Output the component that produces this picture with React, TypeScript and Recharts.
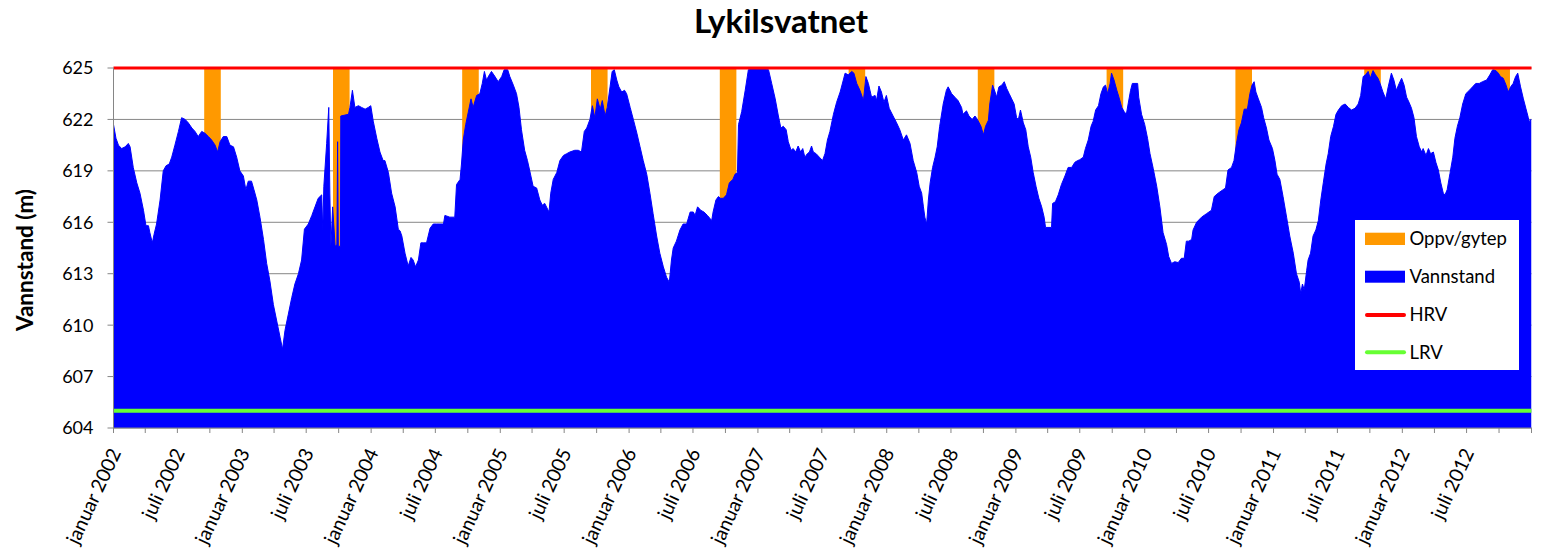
import React from 'react';
import { ComposedChart, Area, XAxis, YAxis, CartesianGrid, ReferenceLine, Legend } from 'recharts';

const TITLE = 'Lykilsvatnet';
const Y_LABEL = 'Vannstand (m)';
const Y_TICKS = [604, 607, 610, 613, 616, 619, 622, 625];
const HRV = 625;
const LRV = 605;
const START = '2002-01-01';
const END = '2013-01-01';
const TICK_YEARS = [2002, 2003, 2004, 2005, 2006, 2007, 2008, 2009, 2010, 2011, 2012];
const TICK_MONTHS = [0, 3, 6, 9];
const MONTH_NAMES: Record<number, string> = { 0: 'januar', 6: 'juli' };

const LEGEND_NAMES = ['Oppv/gytep', 'Vannstand', 'HRV', 'LRV'];

// Spawning / autumn period windows (Oppv/gytep)
const oppvStart = ['2002-09-15', '2003-09-15', '2004-09-15', '2005-09-15', '2006-09-15', '2007-09-15', '2008-09-15', '2009-09-15', '2010-09-15', '2011-09-15', '2012-09-15'];
const oppvEnd = ['2002-11-01', '2003-11-01', '2004-11-01', '2005-11-01', '2006-11-01', '2007-11-01', '2008-11-01', '2009-11-01', '2010-11-01', '2011-11-01', '2012-11-01'];

// Water level: day number since 1 Jan 2002
const vannDays = [
  0, 7, 14, 23, 33, 42, 47, 56, 66, 75, 85, 92, 99, 103, 110, 115, 122, 132, 141, 149, 158, 165, 174, 184, 193, 203, 212, 222, 231, 240, 250, 259, 269, 278, 288, 295, 302, 311, 321, 330, 340, 349, 358,
  368, 375, 382, 391, 398, 406, 415, 425, 434, 443, 453, 462, 472, 479, 486, 495, 505, 514, 524, 533, 541, 552, 562, 571, 580, 590, 593, 596, 604, 610, 613, 616, 621, 628, 633, 635, 637, 643, 644, 666, 670, 677, 684, 694, 703, 713, 722, 729,
  736, 746, 755, 764, 769, 779, 788, 798, 807, 812, 817, 826, 835, 843, 849, 856, 864, 871, 878, 887, 897, 906, 916, 925, 935, 939, 953, 967, 972, 982, 986, 991, 998, 1005, 1013, 1019, 1029, 1038, 1045, 1051, 1057, 1065, 1071, 1081, 1090,
  1100, 1107, 1117, 1123, 1133, 1142, 1149, 1156, 1165, 1173, 1179, 1189, 1199, 1208, 1215, 1222, 1234, 1239, 1246, 1256, 1265, 1275, 1284, 1293, 1307, 1317, 1326, 1334, 1341, 1350, 1357, 1364, 1371, 1379, 1385, 1393, 1399, 1407, 1413,
  1419, 1426, 1432, 1440, 1448, 1454, 1464, 1473, 1483, 1492, 1501, 1511, 1520, 1529, 1539, 1548, 1558, 1567, 1575, 1581, 1586, 1595, 1605, 1614, 1624, 1634, 1643, 1648, 1655, 1664, 1673, 1683, 1695, 1699, 1707, 1714, 1720, 1728, 1737,
  1745, 1755, 1761, 1768, 1771, 1780, 1790, 1799, 1808, 1823, 1841, 1856, 1865, 1875, 1884, 1891, 1898, 1906, 1912, 1920, 1926, 1933, 1940, 1947, 1953, 1959, 1966, 1972, 1978, 1983, 1991, 2000, 2009, 2016, 2023, 2030, 2040, 2049, 2059,
  2068, 2073, 2082, 2092, 2098, 2106, 2115, 2125, 2132, 2139, 2148, 2158, 2162, 2169, 2176, 2183, 2190, 2198, 2209, 2219, 2228, 2238, 2247, 2257, 2266, 2276, 2283, 2290, 2295, 2299, 2304, 2309, 2314, 2321, 2328, 2334, 2341, 2351, 2360,
  2365, 2375, 2384, 2393, 2403, 2407, 2417, 2424, 2433, 2441, 2448, 2458, 2465, 2471, 2479, 2483, 2491, 2498, 2502, 2509, 2517, 2524, 2531, 2538, 2545, 2552, 2559, 2564, 2570, 2578, 2585, 2592, 2599, 2606, 2614, 2622, 2630, 2637, 2641,
  2658, 2661, 2669, 2677, 2686, 2696, 2705, 2715, 2724, 2732, 2738, 2748, 2754, 2762, 2770, 2776, 2783, 2791, 2798, 2805, 2811, 2817, 2824, 2828, 2835, 2843, 2849, 2857, 2864, 2870, 2875, 2882, 2887, 2902, 2905, 2913, 2922, 2930, 2937,
  2946, 2956, 2965, 2974, 2984, 2990, 2998, 3007, 3017, 3026, 3034, 3040, 3047, 3055, 3059, 3069, 3083, 3097, 3111, 3119, 3130, 3144, 3151, 3158, 3168, 3175, 3182, 3189, 3196, 3204, 3213, 3220, 3226, 3232, 3237, 3244, 3253, 3259, 3267,
  3274, 3284, 3291, 3297, 3305, 3314, 3324, 3333, 3343, 3352, 3360, 3364, 3369, 3374, 3381, 3385, 3392, 3399, 3407, 3414, 3421, 3428, 3436, 3442, 3449, 3457, 3464, 3471, 3480, 3490, 3499, 3508, 3518, 3527, 3534, 3541, 3548, 3555, 3561,
  3569, 3576, 3583, 3589, 3597, 3605, 3612, 3621, 3628, 3635, 3643, 3650, 3657, 3664, 3671, 3678, 3685, 3692, 3700, 3707, 3711, 3719, 3726, 3732, 3740, 3747, 3754, 3761, 3768, 3773, 3779, 3787, 3795, 3801, 3808, 3815, 3823, 3832, 3842,
  3851, 3860, 3870, 3879, 3891, 3900, 3908, 3917, 3924, 3930, 3938, 3946, 3952, 3959, 3966, 3973, 3979, 3987, 3995, 4002, 4009, 4013, 4016, 4018,
];

const vannLevels = [
  621.7, 620.9, 620.5, 620.3, 620.4, 620.6, 620.4, 619.2, 618.3, 617.7, 616.7, 615.8, 615.8, 615.4, 614.8, 615.3, 615.9, 617.3, 619.0, 619.3, 619.4, 619.8, 620.5, 621.3, 622.1, 622.0, 621.8, 621.5, 621.3, 621.0, 621.3, 621.2, 621.0, 620.8, 620.5, 620.1, 620.7, 621.0, 621.0, 620.5, 620.4, 619.8, 619.0,
  618.7, 617.9, 618.4, 618.4, 617.9, 617.3, 616.3, 615.0, 613.6, 612.6, 611.2, 610.3, 609.3, 608.6, 609.7, 610.6, 611.6, 612.4, 613.0, 613.8, 615.6, 615.9, 616.4, 616.9, 617.4, 617.6, 615.5, 618.1, 620.6, 622.7, 617.7, 614.6, 616.9, 614.6, 614.7, 620.7, 614.6, 614.6, 622.2, 622.3, 622.7, 623.7, 622.7, 622.8, 622.7, 622.6, 622.7, 622.8,
  621.9, 620.9, 620.1, 619.6, 619.6, 618.9, 617.7, 616.9, 615.6, 615.5, 615.2, 614.2, 613.45, 613.95, 613.8, 613.4, 613.8, 614.8, 614.8, 614.8, 615.65, 615.9, 615.9, 615.9, 615.9, 616.4, 616.3, 616.3, 618.2, 618.5, 619.4, 620.8, 621.7, 622.4, 623.2, 622.7, 623.4, 623.5, 624.1, 624.8, 624.3, 624.6, 624.8, 624.5, 624.2,
  624.5, 624.9, 624.9, 624.5, 624.0, 623.5, 622.7, 621.4, 620.2, 619.6, 619.05, 618.1, 618.0, 617.3, 617.0, 617.1, 616.6, 617.7, 618.5, 618.9, 619.6, 619.9, 620.0, 620.1, 620.2, 620.2, 620.1, 621.3, 621.5, 622.0, 622.8, 622.1, 623.2, 622.6, 623.1, 622.2, 622.7, 623.9, 624.8,
  624.9, 624.3, 623.9, 623.6, 623.7, 623.5, 622.7, 622.0, 621.2, 620.4, 619.6, 618.8, 617.7, 616.5, 615.2, 614.2, 613.4, 612.8, 612.5, 613.8, 614.5, 614.9, 615.55, 615.9, 615.9, 616.6, 616.6, 616.4, 616.9, 616.7, 616.6, 616.4, 616.1, 616.6, 617.3, 617.5, 617.4, 617.4, 617.6,
  618.3, 618.5, 618.8, 618.9, 621.7, 622.45, 623.7, 624.9, 625.0, 625.0, 625.0, 624.9, 624.1, 623.2, 622.2, 621.5, 621.6, 621.4, 620.7, 620.2, 620.3, 620.1, 620.45, 620.1, 620.3, 619.8, 620.0, 620.1, 620.45, 620.1, 620.0, 619.8, 619.6, 620.0, 620.8, 621.3, 622.3, 623.0, 623.6,
  624.3, 624.7, 624.6, 624.8, 624.7, 624.1, 623.7, 623.1, 624.5, 624.1, 623.3, 623.4, 623.1, 623.95, 623.6, 623.0, 623.4, 622.65, 622.2, 621.8, 621.4, 620.8, 621.1, 620.6, 619.6, 618.9, 618.1, 617.7, 616.9, 616.3, 615.9, 617.3, 618.3, 619.2, 619.8, 620.4, 621.6, 622.9, 623.7,
  623.9, 623.5, 623.3, 623.1, 622.7, 622.3, 622.5, 622.2, 622.0, 622.2, 622.0, 621.6, 621.1, 621.6, 621.95, 622.9, 624.0, 623.6, 623.3, 623.9, 624.0, 624.2, 623.8, 623.5, 623.2, 622.9, 622.1, 622.0, 622.55, 621.8, 621.4, 620.4, 619.8, 618.9, 618.1, 617.4, 616.9, 616.3, 615.7,
  615.7, 617.1, 617.2, 617.6, 618.2, 618.7, 619.2, 619.2, 619.5, 619.6, 619.65, 619.8, 620.3, 620.8, 621.6, 621.9, 622.55, 622.8, 623.5, 623.9, 624.0, 623.5, 624.1, 624.7, 624.3, 623.7, 623.3, 622.7, 622.45, 622.3, 622.9, 623.7, 624.1, 624.1, 623.3, 622.3, 621.7, 620.9, 620.0,
  619.15, 618.1, 616.9, 615.4, 614.7, 614.0, 613.6, 613.7, 613.65, 613.9, 613.9, 614.9, 614.9, 615.0, 615.55, 616.0, 616.3, 616.5, 616.7, 617.5, 617.7, 617.9, 618.0, 619.05, 619.2, 619.6, 620.6, 621.4, 621.8, 622.6, 622.6, 623.5, 624.0, 624.2, 623.6, 623.2, 622.7, 622.1, 621.5,
  620.8, 620.3, 619.6, 618.8, 618.5, 617.5, 616.3, 615.2, 614.2, 613.0, 612.5, 611.85, 612.4, 612.05, 613.2, 613.8, 614.2, 615.2, 615.55, 616.1, 617.3, 618.3, 619.4, 620.0, 621.0, 621.6, 622.3, 622.55, 622.8, 622.9, 622.7, 622.55, 622.65, 622.9, 623.4, 624.5, 624.6, 624.8, 624.4,
  624.85, 624.6, 624.4, 624.1, 623.6, 623.2, 623.9, 624.7, 624.3, 623.7, 624.1, 624.4, 624.0, 623.3, 623.0, 622.65, 622.1, 621.0, 620.4, 620.1, 620.3, 619.9, 620.3, 620.0, 620.1, 619.5, 619.05, 618.3, 617.7, 617.6, 617.9, 618.85, 619.8, 620.9, 621.6, 622.1, 622.9, 623.5, 623.7,
  623.9, 624.1, 624.1, 624.2, 624.3, 624.6, 624.9, 624.85, 624.7, 624.5, 624.4, 624.0, 623.6, 623.9, 624.1, 624.5, 624.7, 623.9, 623.2, 622.65, 622.1, 621.8, 622.0, 622.0,
];

const FONT = 'Lato, "Noto Sans", sans-serif';
const AXIS_GREY = '#868686';
const C_OPPV = '#FF9900';
const C_VANN = '#0000FF';
const C_HRV = '#FF0000';
const C_LRV = '#66FF33';

const DAY_MS = 86400000;
const T0 = Date.parse(START);
const dayOf = (iso: string) => Math.round((Date.parse(iso) - T0) / DAY_MS);
const pad = (n: number) => (n < 10 ? '0' + n : '' + n);

const X_TICKS: number[] = [];
TICK_YEARS.forEach((y) => TICK_MONTHS.forEach((m) => X_TICKS.push(dayOf(`${y}-${pad(m + 1)}-01`))));
X_TICKS.push(dayOf(END));

const windows = oppvStart.map((s, i) => [dayOf(s), dayOf(oppvEnd[i])]);
const inWindow = (d: number) => windows.some(([s, e]) => d >= s && d <= e);

type Row = { d: number; vann: number | null; oppv: number | null };
const rows: Row[] = [];
vannDays.forEach((d, i) => rows.push({ d, vann: vannLevels[i], oppv: inWindow(d) ? HRV : null }));
windows.forEach(([s, e]) => {
  rows.push({ d: s, vann: null, oppv: HRV });
  rows.push({ d: e, vann: null, oppv: HRV });
});
rows.sort((a, b) => a.d - b.d);

const XTick = (props: any) => {
  const { x, y, payload } = props;
  const dt = new Date(T0 + payload.value * DAY_MS);
  const m = dt.getUTCMonth();
  const name = MONTH_NAMES[m];
  if (!name || payload.value >= dayOf(END)) return <g />;
  const ax = x + 1.8;
  const ay = y + 16.5;
  return (
    <text
      x={ax}
      y={ay}
      transform={`rotate(-65 ${ax} ${ay})`}
      textAnchor="end"
      dy="0.35em"
      fontSize={19.5}
      fontFamily={FONT}
      fill="#000"
    >
      {`${name} ${dt.getUTCFullYear()}`}
    </text>
  );
};

const LFS = 18.5;
const LegendBox = () => (
  <svg width={164} height={150} style={{ display: 'block', background: '#fff' }}>
    <rect x={10} y={12.7} width={40} height={12.3} fill={C_OPPV} />
    <text x={54.5} y={19} dy="0.35em" fontSize={LFS} fontFamily={FONT} fill="#000">{LEGEND_NAMES[0]}</text>
    <rect x={10} y={50.7} width={40} height={12} fill={C_VANN} />
    <text x={54.5} y={56.7} dy="0.35em" fontSize={LFS} fontFamily={FONT} fill="#000">{LEGEND_NAMES[1]}</text>
    <line x1={12} x2={49} y1={95} y2={95} stroke={C_HRV} strokeWidth={4} strokeLinecap="round" />
    <text x={54.5} y={95} dy="0.35em" fontSize={LFS} fontFamily={FONT} fill="#000">{LEGEND_NAMES[2]}</text>
    <line x1={12} x2={49} y1={132.3} y2={132.3} stroke={C_LRV} strokeWidth={4} strokeLinecap="round" />
    <text x={54.5} y={132.3} dy="0.35em" fontSize={LFS} fontFamily={FONT} fill="#000">{LEGEND_NAMES[3]}</text>
  </svg>
);

export default function App() {
  return (
    <div style={{ position: 'absolute', left: 0, top: 0, width: 1562, height: 559, background: '#fff' }}>
      <ComposedChart
        width={1562}
        height={559}
        data={rows}
        margin={{ top: 68, right: 30.5, bottom: 0, left: 0 }}
      >
        <CartesianGrid vertical={false} stroke={AXIS_GREY} strokeWidth={1} />
        <XAxis
          dataKey="d"
          type="number"
          domain={[0, dayOf(END)]}
          ticks={X_TICKS}
          interval={0}
          allowDataOverflow
          height={131}
          tickSize={5}
          tickMargin={0}
          tick={<XTick />}
          axisLine={{ stroke: AXIS_GREY }}
          tickLine={{ stroke: AXIS_GREY }}
        />
        <YAxis
          type="number"
          domain={[604, 625]}
          ticks={Y_TICKS}
          interval={0}
          allowDataOverflow
          width={113.5}
          tickSize={6}
          tickMargin={14}
          tick={{ fontSize: 18, fill: '#000', fontFamily: FONT }}
          axisLine={{ stroke: AXIS_GREY }}
          tickLine={{ stroke: AXIS_GREY }}
        />
        <Area
          dataKey="oppv"
          name={LEGEND_NAMES[0]}
          type="linear"
          stroke="none"
          fill={C_OPPV}
          fillOpacity={1}
          connectNulls={false}
          dot={false}
          activeDot={false}
          isAnimationActive={false}
        />
        <Area
          dataKey="vann"
          name={LEGEND_NAMES[1]}
          type="linear"
          stroke={C_VANN}
          strokeWidth={1}
          fill={C_VANN}
          fillOpacity={1}
          connectNulls
          dot={false}
          activeDot={false}
          isAnimationActive={false}
        />
        <ReferenceLine y={LRV} stroke={C_LRV} strokeWidth={4} />
        <ReferenceLine y={HRV} stroke={C_HRV} strokeWidth={3} />
        <Legend
          layout="vertical"
          align="center"
          verticalAlign="middle"
          content={() => <LegendBox />}
          wrapperStyle={{ left: 1355, top: 220, width: 164, height: 150 }}
        />
      </ComposedChart>
      <svg
        width={1562}
        height={559}
        style={{ position: 'absolute', left: 0, top: 0, pointerEvents: 'none' }}
      >
        <text x={781} y={33} textAnchor="middle" fontSize={33} fontWeight="bold" fontFamily={FONT} fill="#000">
          {TITLE}
        </text>
        <text
          transform="translate(33.3 260) rotate(-90)"
          textAnchor="middle"
          fontSize={22.5}
          fontWeight="bold"
          fontFamily={FONT}
          fill="#000"
        >
          {Y_LABEL}
        </text>
      </svg>
    </div>
  );
}
